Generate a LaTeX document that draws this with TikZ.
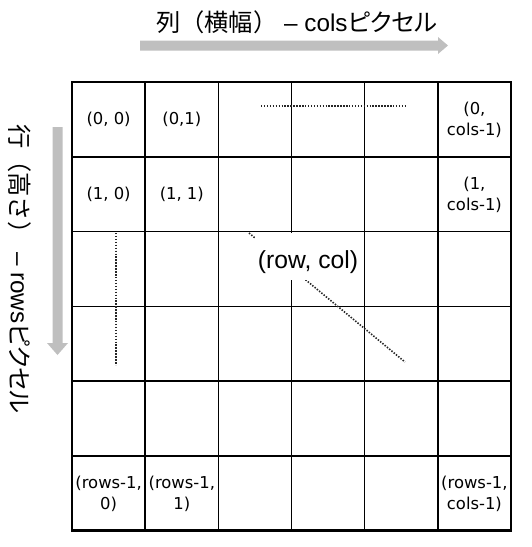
\documentclass[tikz,border=0pt]{standalone}
\usepackage{fontspec}
\setmainfont{Liberation Sans}
\newfontfamily\jp{Noto Sans CJK JP}
\newfontfamily\jpp{Noto Sans CJK JP}[RawFeature={+palt}]
\newfontfamily\cellfont{DejaVu Sans}
\begin{document}
\begin{tikzpicture}[x=0.75pt,y=-0.75pt,
  celltext/.style={font=\cellfont\fontsize{12.3}{16.2}\selectfont,align=center,inner sep=0pt},
  gridline/.style={line width=1.1pt,black},
  dotline/.style={line width=1.2pt,dash pattern=on 1.1pt off 1.1pt,black!85},
  grayarrow/.style={fill=black!25,draw=none},
  title/.style={font=\fontsize{18.2}{22}\selectfont,inner sep=0pt}]
\useasboundingbox (0,0) rectangle (532,547);
% arrows
\fill[grayarrow] (140,40.5) -- (438,40.5) -- (438,37) -- (448,45.5) -- (438,54) -- (438,50.5) -- (140,50.5) -- cycle;
\fill[grayarrow] (52.5,127) -- (62.5,127) -- (62.5,343) -- (68,343) -- (57.5,355) -- (47,343) -- (52.5,343) -- cycle;
% titles
\node[title] (toptitle) at (297,22) {{\jp 列（横幅）} – cols{\jpp ピクセル}};
\node[title,rotate=-90] (lefttitle) at (20,269) {{\jp 行（高さ）} – rows{\jpp ピクセル}};
% grid
\foreach \x in {145.2,218.3,291.5,364.7,437.8} \draw[gridline] (\x,82) -- (\x,530.5);
\foreach \y in {156.8,231.5,306.3,381,455.8} \draw[gridline] (72,\y) -- (511,\y);
\draw[line width=1.9pt] (72,82) rectangle (511,530.5);
% dotted lines
\draw[dotline] (261,106) -- (405,106);
\draw[dotline] (116,233) -- (116,365);
\draw[dotline] (249,233) -- (405,362);
% center label
\fill[white] (255,233) rectangle (362,280);
\node[font=\fontsize{18.5}{20}\selectfont,inner sep=0pt] (rc) at (308,262) {(row, col)};
% cell labels
\node[celltext] (c00) at (108.6,119.4) {(0, 0)};
\node[celltext] (c01) at (181.8,119.4) {(0,1)};
\node[celltext] (c05) at (474.4,120) {(0,\\cols-1)};
\node[celltext] (c10) at (108.6,194.2) {(1, 0)};
\node[celltext] (c11) at (181.8,194.2) {(1, 1)};
\node[celltext] (c15) at (474.4,195) {(1,\\cols-1)};
\node[celltext] (c50) at (108.6,494) {(rows-1,\\0)};
\node[celltext] (c51) at (181.8,494) {(rows-1,\\1)};
\node[celltext] (c55) at (474.4,494) {(rows-1,\\cols-1)};
\end{tikzpicture}
\end{document}
